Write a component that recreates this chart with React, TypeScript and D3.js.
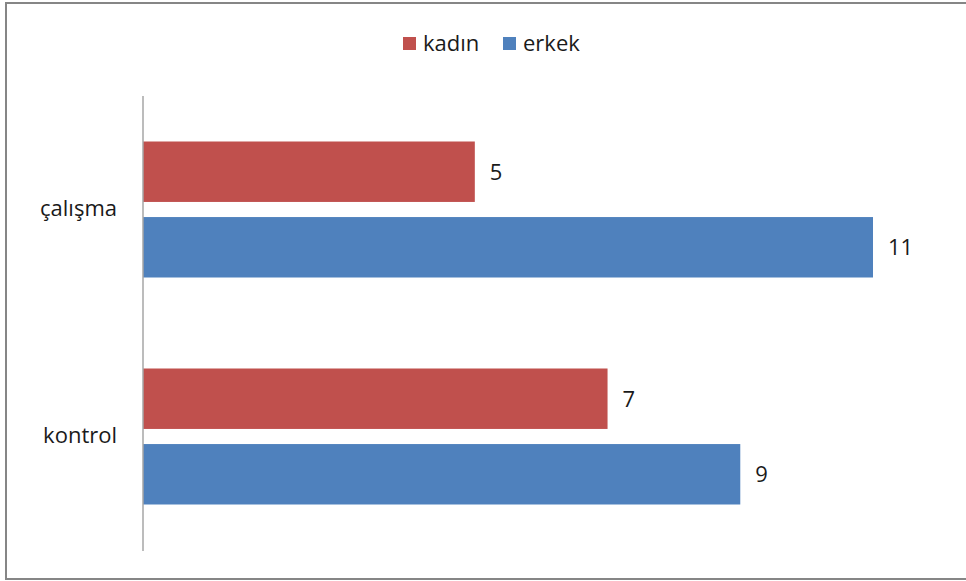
import React from "react";
import * as d3 from "d3";

const categories = ["çalışma", "kontrol"];
const seriesNames = ["kadın", "erkek"];
const kadin = [5, 7];
const erkek = [11, 9];
const colors = ["#C0504D", "#4F81BD"];

const W = 966;
const H = 581;
const FONT = "'Open Sans', 'DejaVu Sans', sans-serif";

export default function App() {
  const values = [kadin, erkek];
  const x = d3.scaleLinear().domain([0, 11]).range([143, 873]);
  const y = d3.scaleBand<string>().domain(categories).range([96, 550]).paddingInner(0).paddingOuter(0);
  const groupPad = 45.5;
  const inner = d3
    .scaleBand<string>()
    .domain(seriesNames)
    .range([0, y.bandwidth() - 2 * groupPad])
    .paddingInner(0.2)
    .paddingOuter(0);

  return (
    <svg
      width={W}
      height={H}
      style={{ position: "absolute", left: 0, top: 0, background: "#fff" }}
      fontFamily={FONT}
    >
      <rect x={6} y={3} width={W} height={576} fill="#fff" stroke="#868686" strokeWidth={2} />
      {/* legend */}
      {seriesNames.map((s, i) => {
        const lx = i === 0 ? 403 : 503;
        return (
          <g key={s}>
            <rect x={lx} y={37} width={13} height={13} fill={colors[i]} />
            <text x={lx + 20} y={51} fontSize={22} fill="#1a1a1a">
              {s}
            </text>
          </g>
        );
      })}
      {/* bars */}
      {categories.map((c, ci) => {
        const gy = (y(c) as number) + groupPad;
        return (
          <g key={c}>
            {seriesNames.map((s, si) => {
              const v = values[si][ci];
              const by = gy + (inner(s) as number);
              return (
                <g key={s}>
                  <rect
                    x={x(0)}
                    y={by}
                    width={x(v) - x(0)}
                    height={inner.bandwidth()}
                    fill={colors[si]}
                  />
                  <text
                    x={x(v) + 15}
                    y={by + inner.bandwidth() / 2}
                    dy="0.36em"
                    fontSize={22}
                    fill="#1a1a1a"
                  >
                    {v}
                  </text>
                </g>
              );
            })}
            <text
              x={117}
              y={(y(c) as number) + y.bandwidth() / 2}
              dy="0.3em"
              textAnchor="end"
              fontSize={22}
              fill="#1a1a1a"
            >
              {c}
            </text>
          </g>
        );
      })}
      {/* axis */}
      <line x1={143} x2={143} y1={96} y2={551} stroke="#A6A6A6" strokeWidth={1.5} />
    </svg>
  );
}
